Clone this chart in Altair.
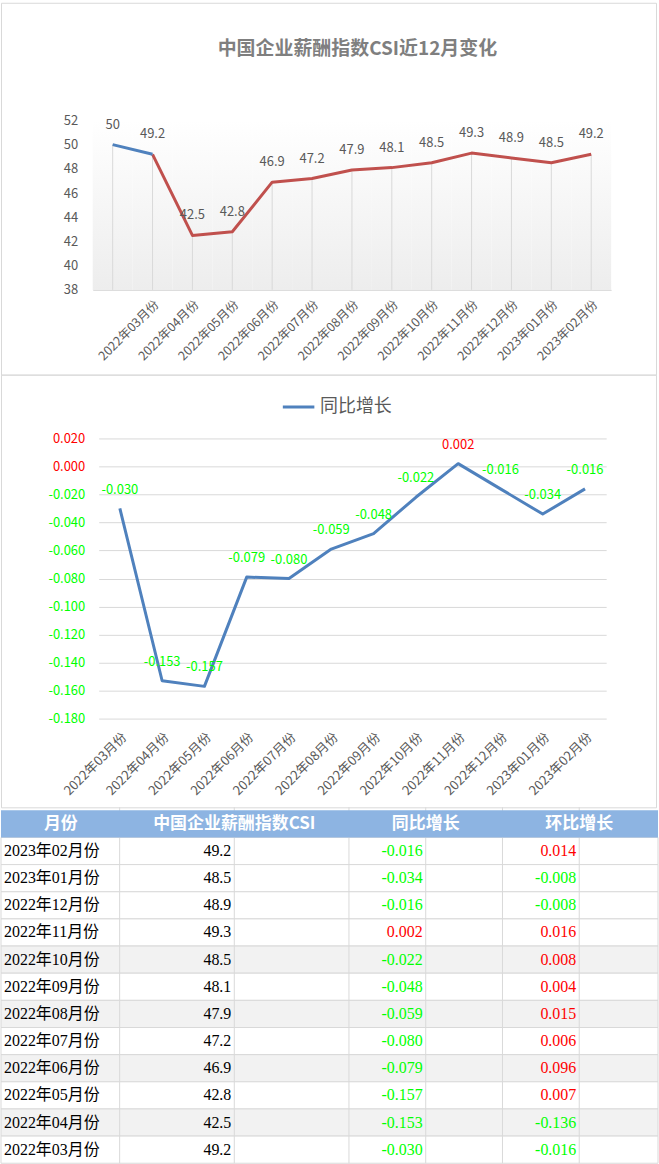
import altair as alt
import pandas as pd

# ---------------- data ----------------
csi_months = ["", "2022年03月份", "2022年04月份", "2022年05月份", "2022年06月份", "2022年07月份",
              "2022年08月份", "2022年09月份", "2022年10月份", "2022年11月份", "2022年12月份",
              "2023年01月份", "2023年02月份"]
csi_values = [50, 49.2, 42.5, 42.8, 46.9, 47.2, 47.9, 48.1, 48.5, 49.3, 48.9, 48.5, 49.2]
csi_ticks = [38, 40, 42, 44, 46, 48, 50, 52]
chart1_title = "中国企业薪酬指数CSI近12月变化"

yoy_months = ["2022年03月份", "2022年04月份", "2022年05月份", "2022年06月份", "2022年07月份",
              "2022年08月份", "2022年09月份", "2022年10月份", "2022年11月份", "2022年12月份",
              "2023年01月份", "2023年02月份"]
yoy_values = [-0.030, -0.153, -0.157, -0.079, -0.080, -0.059, -0.048, -0.022, 0.002, -0.016, -0.034, -0.016]
yoy_ticks = [0.02, 0.0, -0.02, -0.04, -0.06, -0.08, -0.10, -0.12, -0.14, -0.16, -0.18]
series_name = "同比增长"

table_header = ["月份", "中国企业薪酬指数CSI", "同比增长", "环比增长"]
table_months = ["2023年02月份", "2023年01月份", "2022年12月份", "2022年11月份", "2022年10月份",
                "2022年09月份", "2022年08月份", "2022年07月份", "2022年06月份", "2022年05月份",
                "2022年04月份", "2022年03月份"]
table_csi = [49.2, 48.5, 48.9, 49.3, 48.5, 48.1, 47.9, 47.2, 46.9, 42.8, 42.5, 49.2]
table_yoy = [-0.016, -0.034, -0.016, 0.002, -0.022, -0.048, -0.059, -0.080, -0.079, -0.157, -0.153, -0.030]
table_mom = [0.014, -0.008, -0.008, 0.016, 0.008, 0.004, 0.015, 0.006, 0.096, 0.007, -0.136, -0.016]

# ---------------- styles ----------------
FONT = "Noto Sans CJK SC"
SERIF = "Liberation Serif, Noto Sans CJK SC"
GRAY = "#595959"
GRID = "#D9D9D9"
BLUE = "#4F81BD"
RED_LINE = "#C0504D"
POS = "#FF0000"
NEG = "#00FF00"
MINUS_FIX = "replace(format(datum.{f}, '.3f'), '\u2212', '-')"

# ---------------- chart 1 ----------------
W1, H1 = 657, 373
df1 = pd.DataFrame({"month": csi_months, "csi": csi_values, "i": list(range(len(csi_months)))})

x1 = alt.X("month:N",
           scale=alt.Scale(type="band", domain=csi_months, range=[92, 612], paddingInner=0, paddingOuter=0),
           axis=alt.Axis(orient="bottom", offset=-(H1 - 288), labelAngle=-45, labelPadding=8,
                         labelFontSize=12.5, labelColor=GRAY, labelFont=FONT, ticks=False,
                         domainColor=GRID, domainWidth=1, title=None, labelOverlap=False))
y1 = alt.Y("csi:Q",
           scale=alt.Scale(domain=[38, 52], range=[288, 118], nice=False, zero=False),
           axis=alt.Axis(orient="left", offset=-77, values=csi_ticks, ticks=False, tickSize=0,
                         domain=False, grid=False, labelPadding=0, labelFontSize=13,
                         labelColor=GRAY, labelFont=FONT, title=None))

grad = alt.Gradient(gradient="linear",
                    stops=[alt.GradientStop(color="#FFFFFF", offset=0),
                           alt.GradientStop(color="#EDEDED", offset=1)],
                    x1=0, x2=0, y1=0, y2=1)

base1 = alt.Chart(df1)
bg1 = base1.mark_bar(color=grad).encode(x=x1, y=alt.datum(52), y2=alt.datum(38))
drops = base1.mark_rule(color=GRID, strokeWidth=1).encode(x=x1, y=y1, y2=alt.datum(38))
red_line = base1.transform_filter("datum.i >= 1").mark_line(
    color=RED_LINE, strokeWidth=3, strokeJoin="round").encode(x=x1, y=y1)
blue_line = base1.transform_filter("datum.i <= 1").mark_line(
    color=BLUE, strokeWidth=3, strokeJoin="round").encode(x=x1, y=y1)
lab1 = base1.mark_text(dy=-20, fontSize=13, color=GRAY, font=FONT).encode(
    x=x1, y=y1, text=alt.Text("csi:Q", format="~g"))

chart1 = alt.layer(bg1, drops, red_line, blue_line, lab1).properties(
    width=W1, height=H1,
    title=alt.TitleParams(chart1_title, anchor="middle", frame="group", offset=-56, dx=29,
                          fontSize=19, font=FONT, color="#7F7F7F", fontWeight="bold"),
    view=alt.ViewBackground(stroke=GRID, strokeWidth=1))

# ---------------- chart 2 ----------------
W2, H2 = 657, 434
df2 = pd.DataFrame({"month": yoy_months, "yoy": yoy_values})

x2 = alt.X("month:N",
           scale=alt.Scale(type="point", domain=yoy_months, range=[98, 607], padding=0.5),
           axis=alt.Axis(orient="bottom", offset=-(H2 - 345), labelAngle=-45, labelPadding=12,
                         labelFontSize=13, labelColor=GRAY, labelFont=FONT, ticks=False,
                         domain=False, title=None, labelOverlap=False))
y2 = alt.Y("yoy:Q",
           scale=alt.Scale(domain=[-0.18, 0.02], range=[345, 64], nice=False, zero=False),
           axis=alt.Axis(orient="left", offset=-84, values=yoy_ticks, ticks=False, tickSize=0,
                         domain=False, grid=True, gridColor=GRID, gridWidth=1, labelPadding=0,
                         labelFontSize=13, labelFont=FONT,
                         labelColor={"condition": {"test": "datum.value >= 0", "value": POS}, "value": NEG},
                         labelExpr=MINUS_FIX.format(f="value"), title=None))

base2 = alt.Chart(df2).transform_calculate(
    series="'" + series_name + "'",
    lbl=MINUS_FIX.format(f="yoy"),
    lc="datum.yoy >= 0 ? '" + POS + "' : '" + NEG + "'")
line2 = base2.mark_line(strokeWidth=3, strokeJoin="round").encode(
    x=x2, y=y2,
    color=alt.Color("series:N", scale=alt.Scale(range=[BLUE]),
                    legend=alt.Legend(orient="none", legendX=281, legendY=388, title=None,
                                      symbolType="stroke", symbolSize=1000, symbolStrokeWidth=3,
                                      labelFontSize=18, labelColor=GRAY, labelFont=FONT)))
lab2 = base2.mark_text(dy=-19, fontSize=13, font=FONT).encode(
    x=x2, y=y2, text="lbl:N", color=alt.Color("lc:N", scale=None))

chart2 = alt.layer(line2, lab2).properties(
    width=W2, height=H2, view=alt.ViewBackground(stroke=GRID, strokeWidth=1))

# ---------------- table ----------------
W3, H3 = 659, 357
df3 = pd.DataFrame({
    "month": table_months,
    "csi_txt": [f"{v:.1f}" for v in table_csi],
    "yoy": table_yoy,
    "mom": table_mom,
    "yoy_txt": [f"{v:.3f}" for v in table_yoy],
    "mom_txt": [f"{v:.3f}" for v in table_mom],
    "i": list(range(len(table_months))),
})
one = pd.DataFrame({"k": [0]})
y3s = alt.Scale(type="band", domain=[table_header[0]] + table_months, range=[3, 357],
                paddingInner=0, paddingOuter=0)
y3 = alt.Y("month:N", scale=y3s, axis=None)
hdr_y = alt.Y(datum=table_header[0], type="nominal", scale=y3s, axis=None)

rows = alt.Chart(df3).transform_calculate(
    bg="datum.i >= 4 && datum.i % 2 == 0 ? '#F2F2F2' : '#FFFFFF'"
).mark_rect(stroke=GRID, strokeWidth=1).encode(
    y=y3, x=alt.value(0), x2=alt.value(W3), fill=alt.Fill("bg:N", scale=None))

col_edges = [119, 234, 349, 426, 503, 580]
vrules = [alt.Chart(one).mark_rule(color=GRID, strokeWidth=1).encode(
    x=alt.value(e), y=alt.value(0), y2=alt.value(H3)) for e in col_edges]

hdr_rect = alt.Chart(one).mark_rect(color="#8DB4E2").encode(
    y=hdr_y, x=alt.value(0), x2=alt.value(W3))
hdr_centers = [60, 234, 426, 580]
hdr_texts = [alt.Chart(one).mark_text(color="#FFFFFF", fontWeight="bold", fontSize=17, font=FONT,
                                      align="center").encode(
    x=alt.value(c), y=hdr_y, text=alt.value(t)) for t, c in zip(table_header, hdr_centers)]

base3 = alt.Chart(df3).transform_calculate(
    yc="datum.yoy >= 0 ? '" + POS + "' : '" + NEG + "'",
    mc="datum.mom >= 0 ? '" + POS + "' : '" + NEG + "'")
t_month = base3.mark_text(align="left", font=SERIF, fontSize=16, color="#000000").encode(
    x=alt.value(3), y=y3, text="month:N")
t_csi = base3.mark_text(align="right", font=SERIF, fontSize=16, color="#000000").encode(
    x=alt.value(231), y=y3, text="csi_txt:N")
t_yoy = base3.mark_text(align="right", font=SERIF, fontSize=16).encode(
    x=alt.value(423), y=y3, text="yoy_txt:N", color=alt.Color("yc:N", scale=None))
t_mom = base3.mark_text(align="right", font=SERIF, fontSize=16).encode(
    x=alt.value(577), y=y3, text="mom_txt:N", color=alt.Color("mc:N", scale=None))

table = alt.layer(rows, *vrules, hdr_rect, *hdr_texts, t_month, t_csi, t_yoy, t_mom).properties(
    width=W3, height=H3, view=alt.ViewBackground(strokeWidth=0))

chart = alt.vconcat(chart1, chart2, table, spacing=0, bounds="flush").properties(
    padding=0, background="#FFFFFF")

chart.save("out.html", embed_options={"renderer": "svg", "actions": False})
